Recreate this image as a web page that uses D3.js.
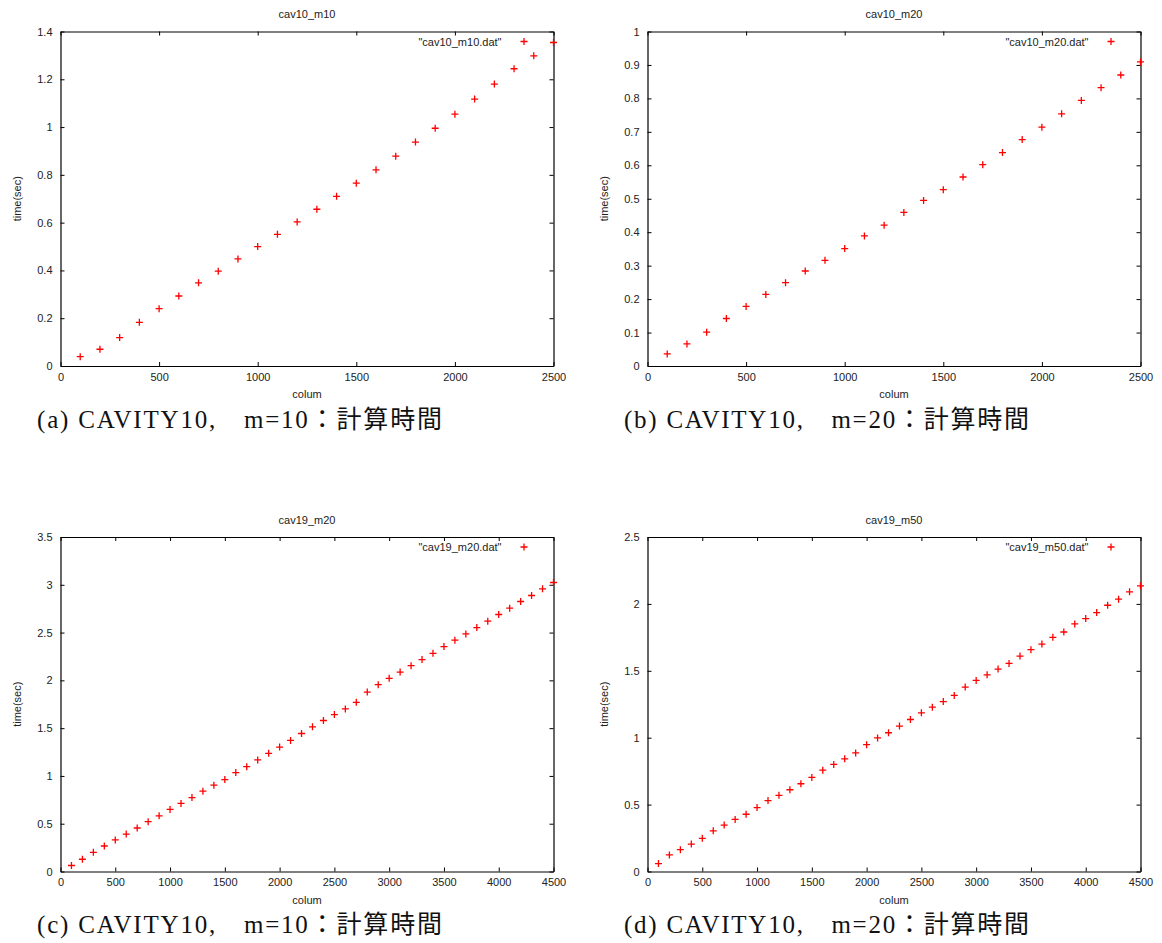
<!DOCTYPE html>
<html><head><meta charset="utf-8">
<script src="https://cdn.jsdelivr.net/npm/d3@7"></script>
<style>body{margin:0;background:#fff}svg{display:block}</style>
</head><body><svg id="chart" width="1162" height="943"></svg>
<script>
// ---- data ----
const columnsShort = [100,200,300,400,500,600,700,800,900,1000,1100,1200,1300,1400,1500,1600,1700,1800,1900,2000,2100,2200,2300,2400,2500];
const columnsLong = [100,200,300,400,500,600,700,800,900,1000,1100,1200,1300,1400,1500,1600,1700,1800,1900,2000,2100,2200,2300,2400,2500,2600,2700,2800,2900,3000,3100,3200,3300,3400,3500,3600,3700,3800,3900,4000,4100,4200,4300,4400,4500];
const timeCav10M10 = [0.039,0.070,0.119,0.183,0.240,0.293,0.348,0.397,0.448,0.500,0.551,0.603,0.656,0.710,0.765,0.821,0.878,0.937,0.995,1.054,1.117,1.180,1.244,1.298,1.354];
const timeCav10M20 = [0.036,0.066,0.101,0.142,0.178,0.214,0.249,0.284,0.316,0.351,0.389,0.421,0.459,0.495,0.527,0.565,0.602,0.638,0.677,0.714,0.754,0.794,0.832,0.870,0.909];
const timeCav19M20 = [0.063,0.128,0.201,0.267,0.330,0.392,0.455,0.521,0.583,0.649,0.712,0.774,0.840,0.903,0.962,1.035,1.097,1.167,1.236,1.302,1.372,1.444,1.514,1.580,1.642,1.701,1.770,1.877,1.955,2.021,2.087,2.154,2.217,2.283,2.353,2.420,2.486,2.552,2.619,2.689,2.755,2.825,2.888,2.958,3.024];
const timeCav19M50 = [0.059,0.124,0.163,0.205,0.248,0.304,0.347,0.389,0.428,0.478,0.530,0.569,0.611,0.656,0.703,0.757,0.800,0.842,0.886,0.948,0.998,1.037,1.087,1.136,1.186,1.228,1.270,1.316,1.378,1.428,1.470,1.513,1.555,1.610,1.658,1.700,1.750,1.790,1.850,1.890,1.935,1.990,2.035,2.090,2.135];

const xTicksShort = [0,500,1000,1500,2000,2500];
const xTicksLong = [0,500,1000,1500,2000,2500,3000,3500,4000,4500];
const yTicksA = [0,0.2,0.4,0.6,0.8,1,1.2,1.4];
const yTicksB = [0,0.1,0.2,0.3,0.4,0.5,0.6,0.7,0.8,0.9,1];
const yTicksC = [0,0.5,1,1.5,2,2.5,3,3.5];
const yTicksD = [0,0.5,1,1.5,2,2.5];

const titles = ["cav10_m10","cav10_m20","cav19_m20","cav19_m50"];
const legendLabels = ['"cav10_m10.dat"','"cav10_m20.dat"','"cav19_m20.dat"','"cav19_m50.dat"'];
const captions = ["(a) CAVITY10,\u3000m=10：計算時間","(b) CAVITY10,\u3000m=20：計算時間","(c) CAVITY10,\u3000m=10：計算時間","(d) CAVITY10,\u3000m=20：計算時間"];
const xLabel = "colum";
const yLabel = "time(sec)";

// ---- layout ----
const panels = [
  {xs: columnsShort, ys: timeCav10M10, xt: xTicksShort, yt: yTicksA, left: 60.5, right: 553.5, top: 31.5, bottom: 366, capX: 37, capY: 427.5},
  {xs: columnsShort, ys: timeCav10M20, xt: xTicksShort, yt: yTicksB, left: 647.5, right: 1140.5, top: 31.5, bottom: 366, capX: 624, capY: 427.5},
  {xs: columnsLong, ys: timeCav19M20, xt: xTicksLong, yt: yTicksC, left: 60.5, right: 553.5, top: 537, bottom: 871.5, capX: 37, capY: 933},
  {xs: columnsLong, ys: timeCav19M50, xt: xTicksLong, yt: yTicksD, left: 647.5, right: 1140.5, top: 537, bottom: 871.5, capX: 624, capY: 933}
];

const svg = d3.select("#chart");
const sans = "'Liberation Sans', Arial, sans-serif";
const fmt = d3.format("~g");
const plus = "M-3.5,0H3.5M0,-3.5V3.5";

panels.forEach((p, i) => {
  const x = d3.scaleLinear().domain([p.xt[0], p.xt[p.xt.length-1]]).range([p.left, p.right]);
  const y = d3.scaleLinear().domain([p.yt[0], p.yt[p.yt.length-1]]).range([p.bottom, p.top]);
  const g = svg.append("g").attr("font-family", sans);

  const styleAxis = sel => {
    sel.attr("font-size", 11).attr("font-family", sans);
    sel.selectAll("path.domain").attr("stroke", "#000").attr("stroke-width", 1.2);
    sel.selectAll(".tick line").attr("stroke", "#000").attr("stroke-width", 1);
    sel.selectAll(".tick text").attr("fill", "#222");
  };

  g.append("g").attr("transform", `translate(0,${p.bottom})`)
    .call(d3.axisBottom(x).tickValues(p.xt).tickFormat(fmt).tickSizeInner(-4).tickSizeOuter(0).tickPadding(7))
    .call(styleAxis);
  g.append("g").attr("transform", `translate(0,${p.top})`)
    .call(d3.axisTop(x).tickValues(p.xt).tickFormat("").tickSizeInner(-4).tickSizeOuter(0))
    .call(styleAxis);
  g.append("g").attr("transform", `translate(${p.left},0)`)
    .call(d3.axisLeft(y).tickValues(p.yt).tickFormat(fmt).tickSizeInner(-4).tickSizeOuter(0).tickPadding(8))
    .call(styleAxis);
  g.append("g").attr("transform", `translate(${p.right},0)`)
    .call(d3.axisRight(y).tickValues(p.yt).tickFormat("").tickSizeInner(-4).tickSizeOuter(0))
    .call(styleAxis);

  const cx = (p.left + p.right) / 2;
  const cy = (p.top + p.bottom) / 2;
  g.append("text").attr("x", cx).attr("y", p.top - 13.5).attr("text-anchor", "middle")
    .attr("font-size", 11).attr("fill", "#222").text(titles[i]);
  g.append("text").attr("x", cx).attr("y", p.bottom + 32).attr("text-anchor", "middle")
    .attr("font-size", 11).attr("fill", "#222").text(xLabel);
  g.append("text").attr("transform", `translate(${p.left - 40},${cy}) rotate(-90)`).attr("text-anchor", "middle")
    .attr("font-size", 11).attr("fill", "#222").text(yLabel);

  // legend
  g.append("text").attr("x", p.right - 52).attr("y", p.top + 14).attr("text-anchor", "end")
    .attr("font-size", 11).attr("fill", "#222").text(legendLabels[i]);
  g.append("path").attr("d", plus).attr("transform", `translate(${p.right - 29.5},${p.top + 10})`)
    .attr("stroke", "#ff0000").attr("stroke-width", 1.3).attr("fill", "none");

  // points
  g.append("g").selectAll("path").data(p.ys).join("path")
    .attr("d", plus)
    .attr("transform", (d, j) => `translate(${x(p.xs[j])},${y(d)})`)
    .attr("stroke", "#ff0000").attr("stroke-width", 1.3).attr("fill", "none");

  // caption
  svg.append("text").attr("x", p.capX).attr("y", p.capY)
    .attr("font-family", "'Liberation Serif', 'Times New Roman', 'Noto Sans CJK JP', serif")
    .attr("font-size", 25).attr("fill", "#111")
    .attr("textLength", 405).attr("lengthAdjust", "spacing")
    .text(captions[i]);
});
</script>
</body></html>
